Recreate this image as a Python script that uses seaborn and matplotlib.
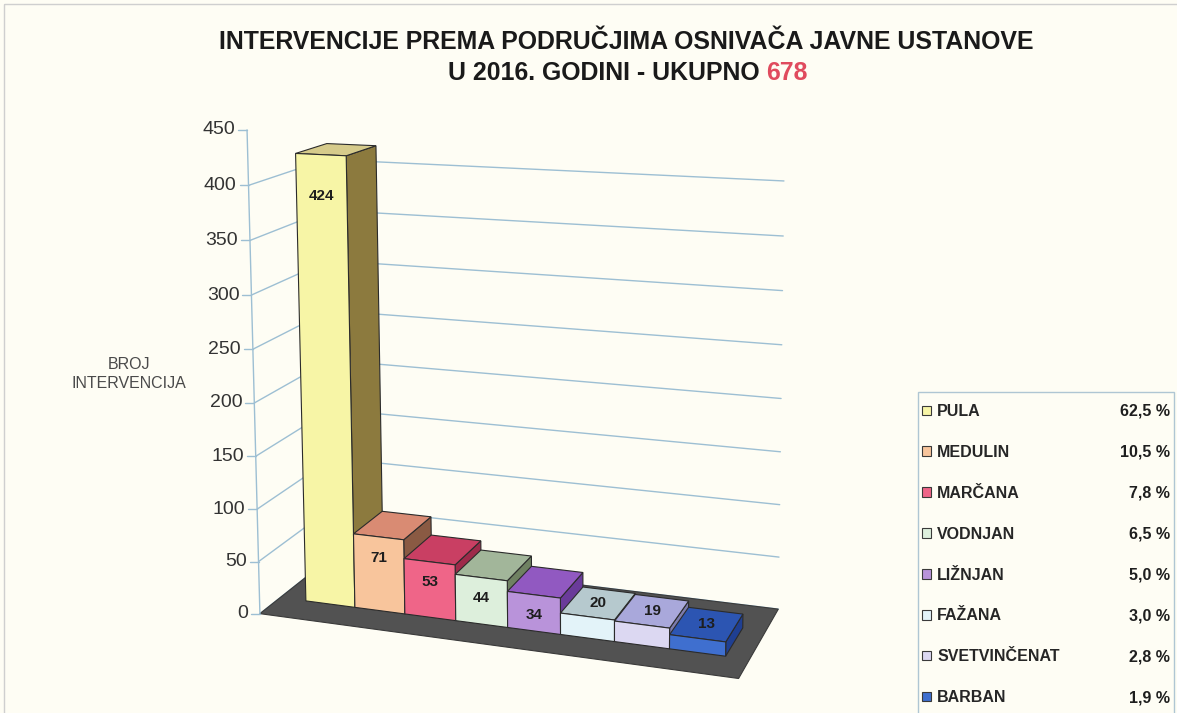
import numpy as np
import matplotlib
matplotlib.use("Agg")
import matplotlib.pyplot as plt
from matplotlib.transforms import Affine2D, Transform
from matplotlib.patches import Polygon, Patch, Rectangle
import seaborn as sns
import pandas as pd

OPCINE = ["PULA", "MEDULIN", "MARČANA", "VODNJAN", "LIŽNJAN", "FAŽANA", "SVETVINČENAT", "BARBAN"]
BROJ = [424, 71, 53, 44, 34, 20, 19, 13]
Y_TICKS = [0, 50, 100, 150, 200, 250, 300, 350, 400, 450]

W, H = 1177, 713
BG = "#FEFDF4"
GRID = "#9DBFD3"
FLOOR = "#525252"
EDGE = "#2B2B2B"
FRONT = ["#F7F5A6", "#F8C59C", "#EF6588", "#DDEFDC", "#B993DA", "#E3F3F9", "#DCD8F2", "#3F6FCF"]
TOP = ["#D6CB8B", "#D98B73", "#C93F63", "#A2B69A", "#9159C1", "#B6C9CE", "#A9A8DB", "#2C55B2"]
SIDE = ["#8C7A3E", "#8A5A43", "#9E2A4A", "#6F8162", "#6A3B9A", "#7E9499", "#7B7BAD", "#1F3F92"]

# perspective view of the 3D column chart: world (category x, value, depth z) -> image pixels
CAM = np.array([
    [45.707, -0.0474337, 41.4429, 305.891],
    [0.80206, -1.06728, -4.61879, 600.894],
    [-0.00931626, -7.81806e-05, 0.034422, 1.0],
])
# floor / walls extent in world units (bars sit on x 0..8, z 0..1)
X_LEFT, X_RIGHT = -0.53, 8.42
Z_FRONT, Z_BACK = -0.63, 1.81


def project(x, v, z):
    pts = np.c_[np.atleast_1d(x), np.atleast_1d(v), np.atleast_1d(z), np.ones(np.size(x))]
    q = pts.astype(float) @ CAM.T
    return q[:, :2] / q[:, 2:3]


class FrontFace(Transform):
    """Maps seaborn's (category position, value) onto the front plane of the bars."""
    input_dims = 2
    output_dims = 2

    def __init__(self, z):
        super().__init__()
        self.z = z

    def transform_non_affine(self, values):
        values = np.asarray(values, float).reshape(-1, 2)
        return project(values[:, 0] + 0.5, values[:, 1], np.full(len(values), self.z))


def tenths_of_percent(vals):
    # largest remainder rounding so the shares add up to 100 %
    raw = np.array(vals, float) * 1000 / sum(vals)
    fl = np.floor(raw).astype(int)
    order = np.argsort(-(raw - fl))
    fl[order[:1000 - fl.sum()]] += 1
    return fl / 10


sns.set_theme(style="white")
plt.rcParams["font.family"] = ["Liberation Sans", "DejaVu Sans"]

fig = plt.figure(figsize=(W / 100, H / 100), dpi=100)
fig.patch.set_facecolor(BG)
ax = fig.add_axes([0, 0, 1, 1])
pix2disp = Affine2D().scale(1 / 100, -1 / 100).translate(0, H / 100) + fig.dpi_scale_trans

df = pd.DataFrame({"opcina": OPCINE, "broj": BROJ})
sns.barplot(data=df, x="opcina", y="broj", hue="opcina", palette=FRONT, width=1.0,
            saturation=1, errorbar=None, legend=False, edgecolor=EDGE, linewidth=0.8, ax=ax)
ax.set_axis_off()
bars = sorted([b for b in ax.patches if isinstance(b, Rectangle)], key=lambda r: r.get_x())

# floor
fl = project([X_LEFT, X_RIGHT, X_RIGHT, X_LEFT], [0, 0, 0, 0], [Z_FRONT, Z_FRONT, Z_BACK, Z_BACK])
ax.add_patch(Polygon(fl, closed=True, facecolor=FLOOR, edgecolor="#3A3A3A", lw=0.8,
                     transform=pix2disp, zorder=1, clip_on=False))

# gridlines on side and back wall
for t in Y_TICKS[:-1]:
    g = project([X_LEFT, X_LEFT, X_RIGHT], [t, t, t], [Z_FRONT, Z_BACK, Z_BACK])
    ax.plot(g[:, 0], g[:, 1], color=GRID, lw=1.0, transform=pix2disp, zorder=0.5, clip_on=False)

# value axis
a = project([X_LEFT, X_LEFT], [0, Y_TICKS[-1]], [Z_FRONT, Z_FRONT])
ax.plot(a[:, 0], a[:, 1], color=GRID, lw=1.0, transform=pix2disp, zorder=2, clip_on=False)
for t in Y_TICKS:
    (tx, ty), = project(X_LEFT, t, Z_FRONT)
    ax.plot([tx - 9, tx], [ty, ty], color=GRID, lw=1.0, transform=pix2disp, zorder=2, clip_on=False)
    ax.text(tx - 12, ty, f"{t}", ha="right", va="center", fontsize=14, color="#333333",
            transform=pix2disp)

ax.text(129, 374, "BROJ\nINTERVENCIJA", ha="center", va="center", fontsize=11.5,
        color="#4A4A4A", linespacing=1.3, transform=pix2disp)

# bars: seaborn front faces pushed through the projection, plus top and side faces
for i, b in enumerate(bars):
    x0 = b.get_x() + 0.5
    x1 = x0 + b.get_width()
    h = b.get_height()
    b.set_transform(FrontFace(0.0) + pix2disp)
    b.set_zorder(5 + 3 * i)
    b.set_clip_on(False)
    side = project([x1, x1, x1, x1], [0, 0, h, h], [0, 1, 1, 0])
    top = project([x0, x1, x1, x0], [h, h, h, h], [0, 0, 1, 1])
    ax.add_patch(Polygon(side, closed=True, facecolor=SIDE[i], edgecolor=EDGE, lw=0.8,
                         transform=pix2disp, zorder=3 + 3 * i, clip_on=False))
    ax.add_patch(Polygon(top, closed=True, facecolor=TOP[i], edgecolor=EDGE, lw=0.8,
                         transform=pix2disp, zorder=4 + 3 * i, clip_on=False))
    xc = (x0 + x1) / 2
    if h >= 30:
        (lx, ly), = project(xc, h - 17 - 0.05 * h, 0)
    else:
        (lx, ly), = project(xc, h, 0.5)
    ax.text(lx, ly, f"{int(h)}", ha="center", va="center", fontsize=11, weight="bold",
            color="#1E1E1E", transform=pix2disp, zorder=60)

# title
t1 = ax.text(626, 42, "INTERVENCIJE PREMA PODRUČJIMA OSNIVAČA JAVNE USTANOVE", ha="center",
             va="center", fontsize=17, weight="bold", color="#1A1A1A", transform=pix2disp)
t2a = ax.text(0, 73, "U 2016. GODINI - UKUPNO ", ha="left", va="center", fontsize=17,
              weight="bold", color="#1A1A1A", transform=pix2disp)
t2b = ax.text(0, 73, f"{sum(BROJ)}", ha="left", va="center", fontsize=17, weight="bold",
              color="#E04B5E", transform=pix2disp)
fig.canvas.draw()
r = fig.canvas.get_renderer()
fs = 17 * 817 / t1.get_window_extent(r).width
for t in (t1, t2a, t2b):
    t.set_fontsize(fs)
fig.canvas.draw()
wa = t2a.get_window_extent(r).width
wb = t2b.get_window_extent(r).width
x_start = 628 - (wa + wb) / 2
t2a.set_x(x_start)
t2b.set_x(x_start + wa)

# legend box with shares
ax.add_patch(Rectangle((918, 392), 256, 340, facecolor=BG, edgecolor="#AFC6D3", lw=1.0,
                       transform=pix2disp, clip_on=False, zorder=70))
handles = [Patch(facecolor=c, edgecolor="#3A3A3A", lw=0.8) for c in FRONT]
leg = fig.legend(handles, OPCINE, loc="upper left", bbox_to_anchor=(922 / W, 1 - 404 / H),
                 frameon=False, prop={"weight": "bold", "size": 11.5}, handlelength=0.55,
                 handleheight=0.55, handletextpad=0.4, labelspacing=1.62, borderpad=0,
                 borderaxespad=0)
leg.set_zorder(80)
fig.canvas.draw()
for txt, p in zip(leg.get_texts(), tenths_of_percent(BROJ)):
    bb = txt.get_window_extent(r)
    yc = H - (bb.y0 + bb.y1) / 2
    ax.text(1170, yc, f"{p:.1f} %".replace(".", ","), ha="right", va="center",
            fontsize=11.5, weight="bold", color="#1E1E1E", transform=pix2disp, zorder=90)

ax.add_patch(Rectangle((4, 4), 1200, 730, facecolor="none", edgecolor="#CFCFCF", lw=1.0,
                       transform=pix2disp, clip_on=False, zorder=0))

fig.savefig("out.png", dpi=100, facecolor=BG)
